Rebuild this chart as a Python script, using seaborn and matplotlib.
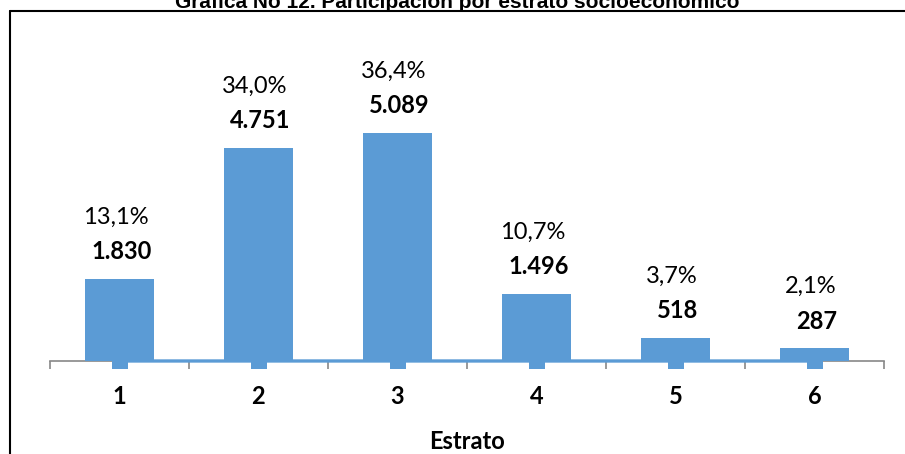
import matplotlib
matplotlib.use("Agg")
import matplotlib.pyplot as plt
import seaborn as sns
import pandas as pd
from matplotlib.lines import Line2D

estratos = ["1", "2", "3", "4", "5", "6"]
cantidad = [1830, 4751, 5089, 1496, 518, 287]
porcentaje = [13.1, 34.0, 36.4, 10.7, 3.7, 2.1]
cantidad_txt = ["1.830", "4.751", "5.089", "1.496", "518", "287"]
porcentaje_txt = ["13,1%", "34,0%", "36,4%", "10,7%", "3,7%", "2,1%"]

sns.set_theme(style="white")
plt.rcParams["font.family"] = ["Lato", "DejaVu Sans"]

blue = "#5B9BD5"
gray = "#888888"

df = pd.DataFrame({"Estrato": estratos, "Cantidad": cantidad,
                   "Pct": [p / 100 for p in porcentaje]})

fig = plt.figure(figsize=(9.05, 4.54), dpi=100)
ax = fig.add_axes([50 / 905, 93 / 454, 834 / 905, 269 / 454])

sns.barplot(data=df, x="Estrato", y="Cantidad", color=blue, width=0.5,
            saturation=1, ax=ax, zorder=3)
for p in ax.patches:
    p.set_edgecolor("none")

# percentage series drawn as a line (values are tiny on this scale)
sns.lineplot(x=list(range(len(estratos))), y=df["Pct"], ax=ax, color=blue,
             linewidth=2.4, marker="s", markersize=12, markeredgewidth=0,
             zorder=2.6, clip_on=False)

ax.set_xlim(-0.5, len(estratos) - 0.5)
ax.set_ylim(0, 6000)
ax.set_yticks([])
ax.set_ylabel("")

for side in ["top", "right", "left"]:
    ax.spines[side].set_visible(False)
ax.spines["bottom"].set_color(gray)
ax.spines["bottom"].set_linewidth(1.2)

ax.set_xticks(range(len(estratos)))
ax.set_xticklabels(estratos, fontsize=17, fontweight="bold", color="black")
ax.tick_params(axis="x", which="major", length=0, pad=17)
ax.set_xticks([i - 0.5 for i in range(len(estratos) + 1)], minor=True)
ax.tick_params(axis="x", which="minor", length=5.5, width=1.2, color=gray,
               direction="out", bottom=True)
ax.set_xlabel("Estrato", fontsize=17, fontweight="bold", color="black",
              labelpad=16)

for i, (v, vt, pt) in enumerate(zip(cantidad, cantidad_txt, porcentaje_txt)):
    ax.annotate(vt, xy=(i, v), xytext=(1.5, 19.5), textcoords="offset points",
                ha="center", va="center", fontsize=17, fontweight="bold",
                color="black", annotation_clip=False)
    ax.annotate(pt, xy=(i, v), xytext=(-3, 44.5), textcoords="offset points",
                ha="center", va="center", fontsize=17, color="black",
                annotation_clip=False)

# figure frame (left and top)
fig.add_artist(Line2D([10 / 905, 10 / 905], [0, 1 - 11 / 454],
                      transform=fig.transFigure, color="black", lw=1.5))
fig.add_artist(Line2D([10 / 905, 1], [1 - 11 / 454, 1 - 11 / 454],
                      transform=fig.transFigure, color="black", lw=1.5))

fig.text(457 / 905, 1 - 2 / 454,
         "Gráfica No 12. Participación por estrato socioeconómico",
         ha="center", va="center", fontsize=15, fontweight="bold",
         family="Liberation Sans", color="black")

fig.savefig("out.png", dpi=100)
